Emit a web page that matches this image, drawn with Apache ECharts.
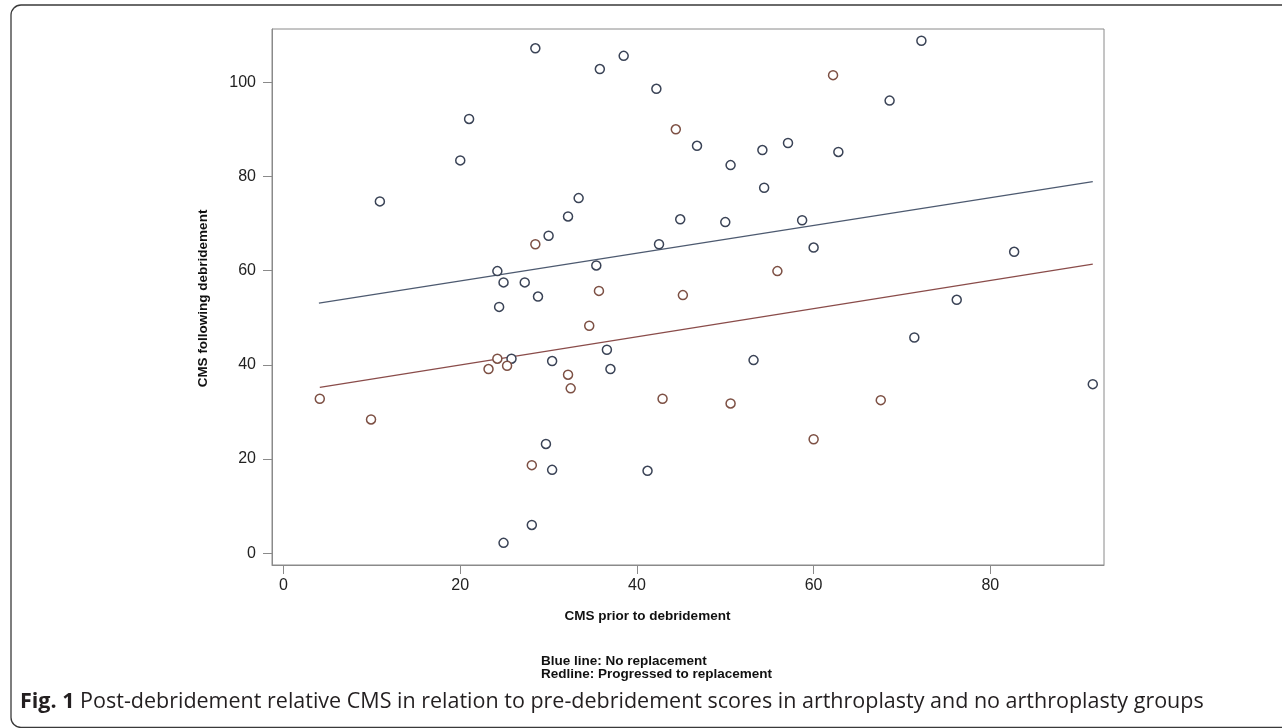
<!DOCTYPE html>
<html>
<head>
<meta charset="utf-8">
<script src="https://cdn.jsdelivr.net/npm/echarts@6/dist/echarts.min.js"></script>
<style>
html,body{margin:0;padding:0;background:#fff;}
#chart{width:1282px;height:728px;}
</style>
</head>
<body>
<div id="chart"></div>
<script>
// Tick labels
const xTicks = [0, 20, 40, 60, 80];
const yTicks = [0, 20, 40, 60, 80, 100];

// No replacement (blue circles): [CMS prior, CMS following]
const noReplacementX = [28.5, 21.0, 20.0, 10.9, 24.2, 24.9, 27.3, 28.8, 24.4, 25.8, 28.1, 24.9,
  35.8, 38.5, 42.2, 46.8, 50.6, 54.2, 57.1, 54.4, 33.4, 32.2, 30.0, 44.9, 50.0, 58.7, 42.5,
  60.0, 35.4, 72.2, 68.6, 62.8, 82.7, 76.2, 71.4, 91.6, 36.6, 30.4, 37.0, 53.2, 29.7, 30.4, 41.2];
const noReplacementY = [107.2, 92.2, 83.4, 74.7, 59.9, 57.5, 57.5, 54.5, 52.3, 41.3, 6.0, 2.2,
  102.8, 105.6, 98.6, 86.5, 82.4, 85.6, 87.1, 77.6, 75.4, 71.5, 67.4, 70.9, 70.3, 70.7, 65.6,
  64.9, 61.1, 108.8, 96.1, 85.2, 64.0, 53.8, 45.8, 35.9, 43.2, 40.8, 39.1, 41.0, 23.2, 17.7, 17.5];

// Progressed to replacement (red circles)
const replacementX = [28.5, 4.1, 9.9, 23.2, 24.2, 25.3, 28.1, 44.4, 55.9, 35.7, 45.2, 62.2,
  67.6, 34.6, 32.2, 32.5, 42.9, 50.6, 60.0];
const replacementY = [65.6, 32.8, 28.4, 39.1, 41.3, 39.8, 18.7, 90.0, 59.9, 55.7, 54.8, 101.5,
  32.5, 48.3, 37.9, 35.0, 32.8, 31.8, 24.2];

// Fitted lines (end points)
const blueLineX = [4.0, 91.6];
const blueLineY = [53.1, 78.9];
const redLineX = [4.1, 91.6];
const redLineY = [35.2, 61.4];

const zip = (a, b) => a.map((v, i) => [v, b[i]]);

const chart = echarts.init(document.getElementById('chart'), null, {renderer: 'canvas'});
const axisColor = '#8a8a8a';
const labelFont = {color: '#222', fontFamily: 'Liberation Sans', fontSize: 16};
const nameFont = 'bold 13.5px "Liberation Sans"';

chart.setOption({
  animation: false,
  backgroundColor: '#fff',
  grid: {left: 272, right: 178, top: 29, bottom: 163, show: true,
         borderColor: axisColor, borderWidth: 1, backgroundColor: 'transparent'},
  xAxis: {
    type: 'value', min: -1.31, max: 92.87,
    axisLine: {show: true, onZero: false, lineStyle: {color: axisColor, width: 1}},
    axisTick: {show: true, length: 9, customValues: xTicks, lineStyle: {color: axisColor}},
    axisLabel: Object.assign({margin: 13, customValues: xTicks}, labelFont),
    splitLine: {show: false}
  },
  yAxis: {
    type: 'value', min: -2.5, max: 111.3,
    axisLine: {show: true, onZero: false, lineStyle: {color: axisColor, width: 1}},
    axisTick: {show: true, length: 9, customValues: yTicks, lineStyle: {color: axisColor}},
    axisLabel: Object.assign({margin: 16, customValues: yTicks}, labelFont),
    splitLine: {show: false}
  },
  series: [
    {type: 'line', data: zip(blueLineX, blueLineY), symbol: 'none', silent: true,
     lineStyle: {color: '#4d5a70', width: 1.3}, z: 2},
    {type: 'line', data: zip(redLineX, redLineY), symbol: 'none', silent: true,
     lineStyle: {color: '#8a4c4a', width: 1.3}, z: 2},
    {type: 'scatter', data: zip(noReplacementX, noReplacementY), symbol: 'circle', symbolSize: 9,
     itemStyle: {color: '#ffffff', borderColor: '#3a4356', borderWidth: 1.5, opacity: 1}, z: 3},
    {type: 'scatter', data: zip(replacementX, replacementY), symbol: 'circle', symbolSize: 9,
     itemStyle: {color: '#ffffff', borderColor: '#7d5044', borderWidth: 1.5, opacity: 1}, z: 3}
  ],
  graphic: [
    {type: 'rect', shape: {x: 11, y: 5, width: 1300, height: 722.5, r: 10}, silent: true, z: -10,
     style: {fill: 'none', stroke: '#3a3a3a', lineWidth: 1.3}},
    {type: 'text', x: 203, y: 298.5, rotation: Math.PI / 2,
     style: {text: 'CMS following debridement', font: nameFont, fill: '#111',
             textAlign: 'center', textVerticalAlign: 'middle'}},
    {type: 'text', x: 647.5, y: 616,
     style: {text: 'CMS prior to debridement', font: nameFont, fill: '#111',
             textAlign: 'center', textVerticalAlign: 'middle'}},
    {type: 'text', x: 541, y: 661,
     style: {text: 'Blue line: No replacement', font: nameFont, fill: '#111',
             textAlign: 'left', textVerticalAlign: 'middle'}},
    {type: 'text', x: 541, y: 674,
     style: {text: 'Redline: Progressed to replacement', font: nameFont, fill: '#111',
             textAlign: 'left', textVerticalAlign: 'middle'}},
    {type: 'text', x: 20, y: 702,
     style: {text: '{b|Fig. 1} Post-debridement relative CMS in relation to pre-debridement scores in arthroplasty and no arthroplasty groups',
             font: '21.5px "Open Sans"', fill: '#231f20', textAlign: 'left', textVerticalAlign: 'middle',
             rich: {b: {fontWeight: 'bold', fontFamily: 'Open Sans', fontSize: 21.5, fill: '#231f20'}}}}
  ]
});
</script>
</body>
</html>
